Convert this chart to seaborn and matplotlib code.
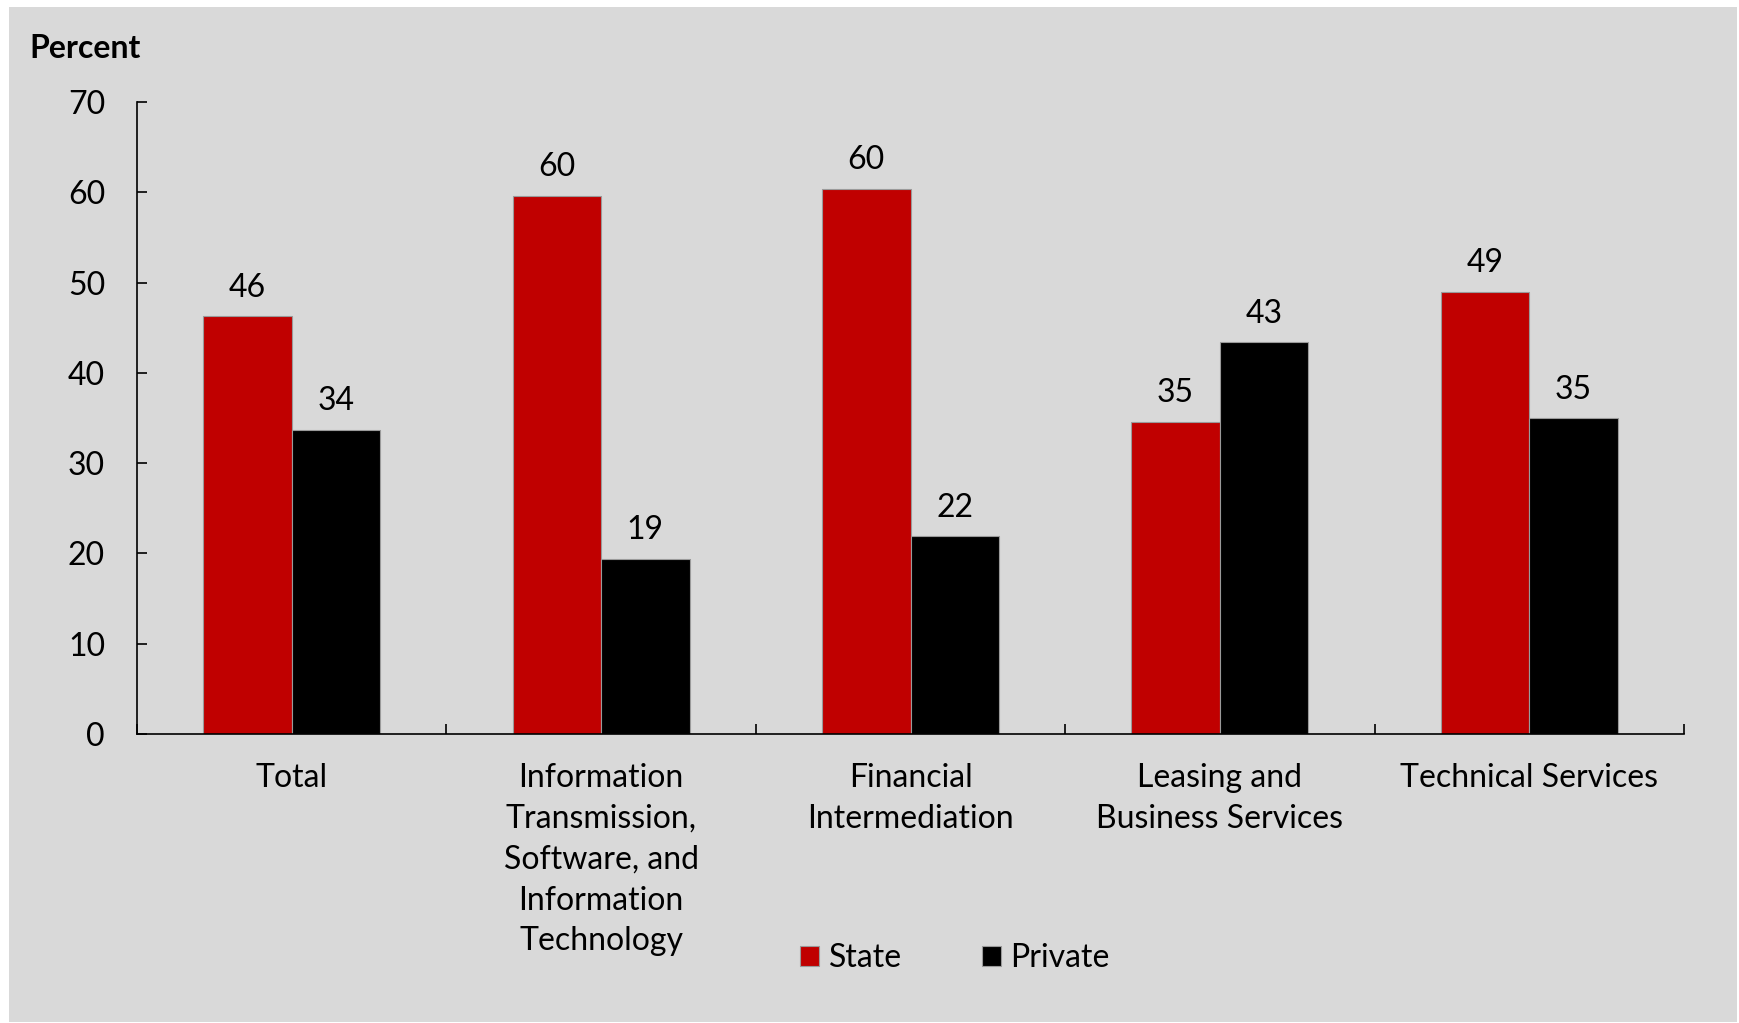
import numpy as np
import pandas as pd
import matplotlib
matplotlib.use("Agg")
import matplotlib.pyplot as plt
from matplotlib.patches import Rectangle
import seaborn as sns

# Sector categories (line breaks as displayed on the axis)
categories = [
    "Total",
    "Information\nTransmission,\nSoftware, and\nInformation\nTechnology",
    "Financial\nIntermediation",
    "Leasing and\nBusiness Services",
    "Technical Services",
]
series_names = ["State", "Private"]
state_values = [46.3, 59.6, 60.4, 34.6, 49.0]
private_values = [33.7, 19.4, 21.9, 43.4, 35.0]
y_ticks = [0, 10, 20, 30, 40, 50, 60, 70]
y_title = "Percent"

sns.set_theme(style="white")
plt.rcParams["font.family"] = ["Lato", "DejaVu Sans"]
plt.rcParams["text.color"] = "black"
plt.rcParams["xtick.color"] = "black"
plt.rcParams["ytick.color"] = "black"
plt.rcParams["axes.labelcolor"] = "black"

FS = 23
W, H = 1739, 1023

df = pd.DataFrame({
    "Sector": categories * 2,
    "Ownership": [series_names[0]] * len(categories) + [series_names[1]] * len(categories),
    "Value": state_values + private_values,
})

fig = plt.figure(figsize=(W / 100, H / 100), dpi=100, facecolor="white")
# grey panel behind the chart
fig.patches.append(Rectangle((9 / W, 1 - 1022 / H), (1737 - 9) / W, (1022 - 7) / H,
                             transform=fig.transFigure, facecolor="#D9D9D9",
                             edgecolor="none", zorder=-10))

ax = fig.add_axes([137 / W, 1 - 734 / H, (1684 - 137) / W, (734 - 102) / H])
ax.set_facecolor("none")

sns.barplot(data=df, x="Sector", y="Value", hue="Ownership", order=categories,
            hue_order=series_names,
            palette={"State": "#C00000", "Private": "#000000"},
            width=0.572, saturation=1, errorbar=None,
            edgecolor="#9a9a9a", linewidth=0.8, ax=ax)

# value labels above each bar
for container, vals in zip(ax.containers, [state_values, private_values]):
    for bar, v in zip(container, vals):
        ax.annotate(f"{v:.0f}", (bar.get_x() + bar.get_width() / 2, v),
                    xytext=(0, 14), textcoords="offset points",
                    ha="center", va="baseline", fontsize=FS)

ax.set_ylim(0, 70)
ax.set_xlim(-0.5, len(categories) - 0.5)
ax.set_yticks(y_ticks)
ax.set_xlabel("")
ax.set_ylabel("")

for side in ["top", "right"]:
    ax.spines[side].set_visible(False)
for side in ["left", "bottom"]:
    ax.spines[side].set_color("black")
    ax.spines[side].set_linewidth(1.2)

ax.tick_params(axis="y", left=True, direction="in", length=7.2, width=1.2,
               pad=23, labelsize=FS)
ax.set_xticks(range(len(categories)))
ax.set_xticklabels(categories, linespacing=1.45)
ax.tick_params(axis="x", which="major", length=0, pad=21, labelsize=FS)
ax.set_xticks(np.arange(-0.5, len(categories), 1), minor=True)
ax.tick_params(axis="x", which="minor", bottom=True, direction="in",
               length=7.2, width=1.2)

fig.text(29 / W, 1 - 58 / H, y_title, fontsize=FS, fontweight="bold",
         ha="left", va="baseline")

handles, labels = ax.get_legend_handles_labels()
ax.get_legend().remove()
fig.legend(handles, labels, loc="center", bbox_to_anchor=(955 / W, 1 - 958 / H),
           ncol=2, frameon=False, fontsize=FS, handlelength=0.6,
           handleheight=0.6, handletextpad=0.3, columnspacing=2.5)

fig.savefig("out.png", dpi=100, facecolor="white")
